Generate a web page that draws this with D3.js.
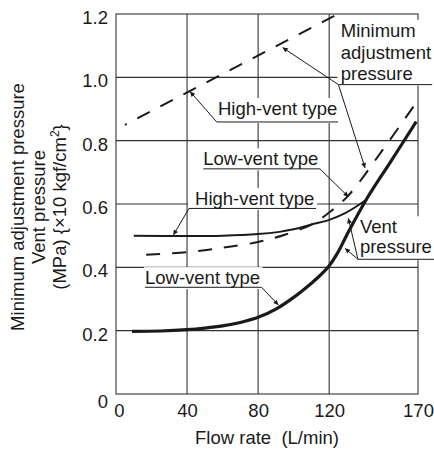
<!DOCTYPE html>
<html lang="en">
<head>
<meta charset="UTF-8">
<title>Minimum adjustment pressure / Vent pressure vs flow rate</title>
<script src="https://cdnjs.cloudflare.com/ajax/libs/d3/7.8.5/d3.min.js"></script>
<style>
    body { margin: 0; background: #fff; overflow: hidden; }
    svg { display: block; font-family: Arial, "Liberation Sans", sans-serif; }
</style>
</head>
<body>
<svg id="chart" width="434" height="450"></svg>
<script>
// axis ticks
const flowTicks = [0, 40, 80, 120, 170];
const pressTicks = [0, 0.2, 0.4, 0.6, 0.8, 1.0, 1.2];

// minimum adjustment pressure, high-vent type (dashed)
const minHighFlow = [5, 125];
const minHighP = [0.85, 1.2];

// minimum adjustment pressure, low-vent type (dashed)
const minLowFlow = [17, 40, 60, 80, 95, 110, 120, 131, 150, 169];
const minLowP = [0.44, 0.448, 0.462, 0.48, 0.503, 0.535, 0.573, 0.628, 0.77, 0.92];

// vent pressure, high-vent type (thin solid)
const ventHighFlow = [10, 40, 60, 80, 92, 100, 110, 120, 129, 138, 141];
const ventHighP = [0.5, 0.499, 0.5, 0.505, 0.512, 0.52, 0.535, 0.55, 0.571, 0.602, 0.614];

// vent pressure, low-vent type (thick solid)
const ventLowFlow = [9, 25, 40, 50, 60, 70, 80, 90, 100, 110, 115, 120, 125, 130, 141, 155, 169];
const ventLowP = [0.198, 0.199, 0.203, 0.208, 0.215, 0.226, 0.242, 0.268, 0.305, 0.35, 0.375, 0.405, 0.448, 0.503, 0.615, 0.737, 0.86];

// callouts, placed in data units (flow, pressure)
const notes = [
    { lines: ["Minimum", "adjustment", "pressure"], x: 126.5, y: [1.128, 1.059, 0.992],
      ul: [125.2, 178, 0.977], from: [125.2, 0.977], tips: [[93.8, 1.094], [140.2, 0.714]] },
    { lines: ["High-vent type"], x: 57.4, y: [0.881],
      ul: [56.7, 125, 0.859], from: [56.7, 0.859], tips: [[41.7, 0.955]] },
    { lines: ["Low-vent type"], x: 49.1, y: [0.722],
      ul: [49.1, 114.8, 0.711], from: [114.8, 0.711], tips: [[130.8, 0.623]] },
    { lines: ["High-vent type"], x: 44.5, y: [0.597],
      ul: [41.1, 112.6, 0.586], from: [41.1, 0.586], tips: [[32.3, 0.502]] },
    { lines: ["Low-vent type"], x: 16.3, y: [0.347],
      ul: [16.3, 82, 0.337], from: [82, 0.337], tips: [[91.4, 0.281]] },
    { lines: ["Vent", "pressure"], x: 137.3, y: [0.5075, 0.4443],
      ul: [136.2, 180, 0.4254], from: [136.2, 0.4254], tips: [[130.8, 0.555], [128.9, 0.46]] }
];

const ink = "#1a1a1a";
const fontSize = "18.5px";

const svg = d3.select("#chart");
const x = d3.scaleLinear().domain([0, 170]).range([116, 418]);
const y = d3.scaleLinear().domain([0, 1.2]).range([394, 14]);

const defs = svg.append("defs");
defs.append("marker")
    .attr("id", "arrow")
    .attr("viewBox", "0 0 10 10")
    .attr("refX", 10).attr("refY", 5)
    .attr("markerWidth", 8).attr("markerHeight", 5)
    .attr("markerUnits", "userSpaceOnUse")
    .attr("orient", "auto")
    .append("path").attr("d", "M0,0L10,5L0,10z").attr("fill", ink);

// grid
const grid = svg.append("g").attr("stroke", "#333").attr("stroke-width", 1.1);
grid.selectAll(".vx").data(flowTicks.slice(1, -1)).enter().append("line")
    .attr("x1", d => x(d)).attr("x2", d => x(d))
    .attr("y1", y(0)).attr("y2", y(1.2));
grid.selectAll(".hy").data(pressTicks.slice(1, -1)).enter().append("line")
    .attr("x1", x(0)).attr("x2", x(170))
    .attr("y1", d => y(d)).attr("y2", d => y(d));
grid.append("rect")
    .attr("x", x(0)).attr("y", y(1.2))
    .attr("width", x(170) - x(0)).attr("height", y(0) - y(1.2))
    .attr("fill", "none");

// axes (labels only)
const xAxis = svg.append("g")
    .attr("transform", `translate(0,${y(0)})`)
    .call(d3.axisBottom(x).tickValues(flowTicks).tickSize(0).tickPadding(10));
xAxis.select(".domain").remove();
xAxis.selectAll("text")
    .style("font-size", fontSize).attr("fill", ink)
    .attr("dx", d => d === 0 ? 3 : 0);

const yAxis = svg.append("g")
    .attr("transform", `translate(${x(0)},0)`)
    .call(d3.axisLeft(y).tickValues(pressTicks).tickSize(0).tickPadding(8)
        .tickFormat(d => d === 0 ? "0" : d.toFixed(1)));
yAxis.select(".domain").remove();
yAxis.selectAll("text")
    .style("font-size", fontSize).attr("fill", ink)
    .attr("dy", d => d === 0 ? "0.72em" : "0.52em");

svg.append("text")
    .attr("x", (x(0) + x(170)) / 2).attr("y", 444)
    .attr("text-anchor", "middle")
    .style("font-size", fontSize).attr("fill", ink)
    .text("Flow rate\u00a0 (L/min)");

const yTitle = svg.append("text")
    .attr("transform", "translate(0,207) rotate(-90)")
    .attr("text-anchor", "middle")
    .style("font-size", fontSize).attr("fill", ink);
yTitle.append("tspan").attr("x", 0).attr("y", 24).text("Minimum adjustment pressure");
yTitle.append("tspan").attr("x", 0).attr("y", 45).text("Vent pressure");
const l3 = yTitle.append("tspan").attr("x", 0).attr("y", 66);
l3.append("tspan").text("(MPa) {×10 kgf/cm");
l3.append("tspan").attr("dy", -7).style("font-size", "12px").text("2");
l3.append("tspan").attr("dy", 7).text("}");

// white boxes behind the callout text
const noteLayer = svg.append("g");
const bgLayer = noteLayer.append("g");
const txtLayer = noteLayer.append("g");

// curves
const line = d3.line().x(d => x(d[0])).y(d => y(d[1])).curve(d3.curveCatmullRom.alpha(0.5));
const curves = svg.append("g").attr("fill", "none").attr("stroke", ink);

curves.append("path")
    .datum(d3.zip(minHighFlow, minHighP))
    .attr("d", d3.line().x(d => x(d[0])).y(d => y(d[1])))
    .attr("stroke-width", 2).attr("stroke-dasharray", "14,12").attr("stroke-dashoffset", 12);
curves.append("path")
    .datum(d3.zip(minLowFlow, minLowP))
    .attr("d", line)
    .attr("stroke-width", 2).attr("stroke-dasharray", "14,12");
curves.append("path")
    .datum(d3.zip(ventHighFlow, ventHighP))
    .attr("d", line)
    .attr("stroke-width", 2);
curves.append("path")
    .datum(d3.zip(ventLowFlow, ventLowP))
    .attr("d", line)
    .attr("stroke-width", 3.2);

// callouts
const leaders = svg.append("g").attr("stroke", ink).attr("stroke-width", 1);
notes.forEach(n => {
    const t = txtLayer.append("text")
        .style("font-size", fontSize).attr("fill", ink);
    n.lines.forEach((s, i) => {
        t.append("tspan").attr("x", x(n.x)).attr("y", y(n.y[i])).text(s);
    });
    const b = t.node().getBBox();
    const x0 = Math.min(b.x, x(n.ul[0])) - 1;
    const x1 = Math.max(b.x + b.width, x(n.ul[1])) + 1;
    const y0 = b.y;
    const y1 = Math.max(b.y + b.height, y(n.ul[2])) + 1;
    bgLayer.append("rect")
        .attr("x", x0).attr("y", y0)
        .attr("width", x1 - x0).attr("height", y1 - y0)
        .attr("fill", "#fff");
    leaders.append("line")
        .attr("x1", x(n.ul[0])).attr("x2", x(n.ul[1]))
        .attr("y1", y(n.ul[2])).attr("y2", y(n.ul[2]));
    n.tips.forEach(tp => {
        leaders.append("line")
            .attr("x1", x(n.from[0])).attr("y1", y(n.from[1]))
            .attr("x2", x(tp[0])).attr("y2", y(tp[1]))
            .attr("marker-end", "url(#arrow)");
    });
});
</script>
</body>
</html>
